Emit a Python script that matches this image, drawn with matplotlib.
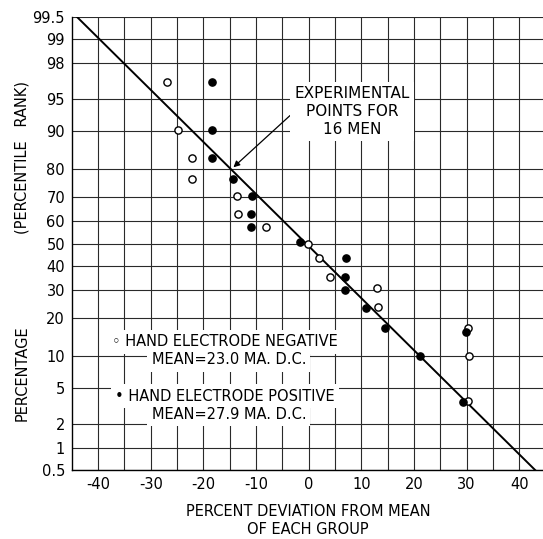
import math
import numpy as np
import matplotlib
matplotlib.use("Agg")
import matplotlib.pyplot as plt

# open circles: hand electrode negative
neg_x = [-27.0, -24.9, -22.2, -22.2, -13.6, -13.4, -8.2, -0.2, 1.9, 4.1, 12.9, 13.2, 30.3, 30.5, 30.3]
neg_p = [96.7, 90.1, 83.4, 76.9, 70.4, 63.0, 57.3, 49.8, 43.3, 35.3, 30.5, 23.4, 16.9, 10.1, 3.7]
# filled circles: hand electrode positive
pos_x = [-18.3, -18.3, -18.4, -14.4, -10.8, -10.9, -10.9, -1.7, 7.0, 6.9, 6.9, 10.9, 14.4, 29.8, 21.2, 29.4]
pos_p = [96.7, 90.1, 83.4, 76.9, 70.4, 63.3, 57.3, 50.6, 43.6, 35.3, 29.9, 23.3, 16.9, 15.8, 10.1, 3.6]
# fitted line
line_x = [-44.0, 43.0]
line_p = [99.5, 0.5]

yticks = [0.5, 1, 2, 5, 10, 20, 30, 40, 50, 60, 70, 80, 90, 95, 98, 99, 99.5]
ylabels = ["0.5", "1", "2", "5", "10", "20", "30", "40", "50", "60", "70", "80", "90", "95", "98", "99", "99.5"]
xticks = [-40, -30, -20, -10, 0, 10, 20, 30, 40]
xminor = [-35, -25, -15, -5, 5, 15, 25, 35]

# inverse normal cdf (Acklam)
A = [-3.969683028665376e+01, 2.209460984245205e+02, -2.759285104469687e+02,
     1.383577518672690e+02, -3.066479806614716e+01, 2.506628277459239e+00]
B = [-5.447609879822406e+01, 1.615858368580409e+02, -1.556989798598866e+02,
     6.680131188771972e+01, -1.328068155288572e+01]
C = [-7.784894002430293e-03, -3.223964580411365e-01, -2.400758277161838e+00,
     -2.549732539343734e+00, 4.374664141464968e+00, 2.938163982698783e+00]
D = [7.784695709041462e-03, 3.224671290700398e-01, 2.445134137142996e+00,
     3.754408661907416e+00]


def ppf(q):
    q = np.clip(np.asarray(q, dtype=float), 1e-9, 1 - 1e-9)
    out = np.empty_like(q)
    lo = q < 0.02425
    hi = q > 1 - 0.02425
    mid = ~(lo | hi)
    t = np.sqrt(-2 * np.log(q[lo]))
    out[lo] = (((((C[0]*t+C[1])*t+C[2])*t+C[3])*t+C[4])*t+C[5]) / ((((D[0]*t+D[1])*t+D[2])*t+D[3])*t+1)
    t = np.sqrt(-2 * np.log(1 - q[hi]))
    out[hi] = -(((((C[0]*t+C[1])*t+C[2])*t+C[3])*t+C[4])*t+C[5]) / ((((D[0]*t+D[1])*t+D[2])*t+D[3])*t+1)
    s = q[mid] - 0.5
    r = s * s
    out[mid] = (((((A[0]*r+A[1])*r+A[2])*r+A[3])*r+A[4])*r+A[5])*s / (((((B[0]*r+B[1])*r+B[2])*r+B[3])*r+B[4])*r+1)
    return out


_erf = np.vectorize(math.erf)


def fwd(p):
    return ppf(np.asarray(p, dtype=float) / 100.0)


def inv(z):
    return 50.0 * (1 + _erf(np.asarray(z, dtype=float) / math.sqrt(2)))


fig = plt.figure(figsize=(5.43, 5.39), dpi=100)
ax = fig.add_axes([72/543, 69/539, 471/543, 453/539])
ax.set_yscale('function', functions=(fwd, inv))
ax.set_xlim(-44.96, 44.5)
ax.set_ylim(0.5, 99.5)

ax.set_yticks(yticks)
ax.set_yticklabels(ylabels)
ax.yaxis.set_minor_locator(matplotlib.ticker.NullLocator())
ax.set_xticks(xticks)
ax.set_xticks(xminor, minor=True)
ax.set_xticklabels([str(v) for v in xticks])
ax.tick_params(axis='both', which='both', length=0, labelsize=10.5, pad=5)
ax.grid(True, which='both', color='#2a2a2a', lw=0.8)
ax.set_axisbelow(True)
for s in ['top', 'right']:
    ax.spines[s].set_visible(False)
ax.spines['left'].set_linewidth(1.0)
ax.spines['bottom'].set_linewidth(1.0)

ax.plot(line_x, line_p, color='k', lw=1.4, zorder=3)
ax.plot(neg_x, neg_p, 'o', mfc='white', mec='k', mew=1.0, ms=5.2, zorder=4)
ax.plot(pos_x, pos_p, 'o', mfc='k', mec='k', ms=5.2, zorder=4)

box = dict(fc='white', ec='none', pad=3)
ax.annotate("EXPERIMENTAL\nPOINTS FOR\n16 MEN", xy=(-14.3, 80.7), xytext=(8.2, 93.3),
            ha='center', va='center', fontsize=11, linespacing=1.25, bbox=box,
            arrowprops=dict(arrowstyle='-|>', color='k', lw=0.9, mutation_scale=9,
                            relpos=(0, 0.5), shrinkA=0, shrinkB=0), zorder=5)

ax.text(0.325, 0.283, "\u25e6 HAND ELECTRODE NEGATIVE", transform=ax.transAxes,
        ha='center', va='center', fontsize=10.5, bbox=box, zorder=5)
ax.text(0.333, 0.243, "MEAN=23.0 MA. D.C.", transform=ax.transAxes,
        ha='center', va='center', fontsize=10.5, bbox=box, zorder=5)
ax.text(0.325, 0.163, "\u2022 HAND ELECTRODE POSITIVE", transform=ax.transAxes,
        ha='center', va='center', fontsize=10.5, bbox=box, zorder=5)
ax.text(0.333, 0.123, "MEAN=27.9 MA. D.C.", transform=ax.transAxes,
        ha='center', va='center', fontsize=10.5, bbox=box, zorder=5)

fig.text(22/543, 1 - 158/539, "(PERCENTILE   RANK)", rotation=90, ha='center', va='center', fontsize=10.5)
fig.text(22/543, 1 - 373/539, "PERCENTAGE", rotation=90, ha='center', va='center', fontsize=10.5)
fig.text(308/543, 1 - 512/539, "PERCENT DEVIATION FROM MEAN", ha='center', va='center', fontsize=10.5)
fig.text(308/543, 1 - 529/539, "OF EACH GROUP", ha='center', va='center', fontsize=10.5)

fig.savefig("out.png", dpi=100)
